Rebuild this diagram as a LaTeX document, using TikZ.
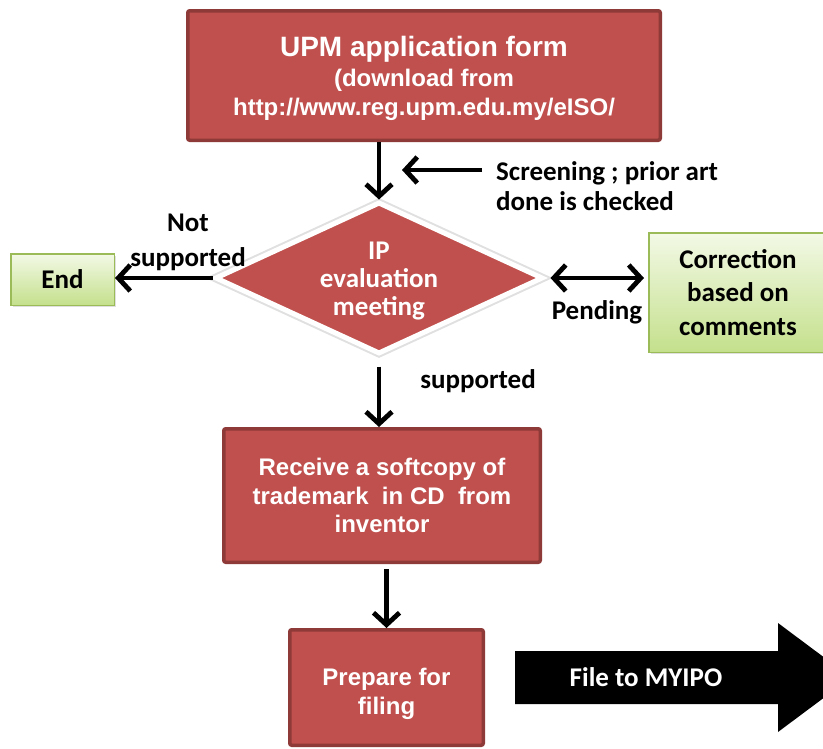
\documentclass[tikz,border=0pt]{standalone}
\usepackage{fontspec}
\setmainfont{Carlito}
\newfontfamily\arialfont{Liberation Sans}
\usepackage{tikz}
\usetikzlibrary{shapes.geometric,arrows.meta,shadows}

\definecolor{boxred}{HTML}{C0504D}
\definecolor{boxredline}{HTML}{8E3A38}
\definecolor{greenline}{HTML}{9BBB59}
\definecolor{greentop}{HTML}{F3F9E6}
\definecolor{greenbot}{HTML}{C4E08C}

\tikzset{
  redbox/.style={draw=boxredline, fill=boxred, line width=3.5pt, rounded corners=2pt,
    text=white, align=center, inner sep=0pt, font=\arialfont\bfseries\fontsize{24}{28.5}\selectfont},
  greenbox/.style={draw=greenline, line width=1.5pt, top color=greentop, bottom color=greenbot,
    align=center, inner sep=0pt, font=\bfseries\fontsize{27}{33.5}\selectfont,
    drop shadow={shadow xshift=2pt, shadow yshift=-2pt, opacity=.25}},
  lbl/.style={align=center, inner sep=0pt, font=\bfseries\fontsize{27}{33}\selectfont},
  arr/.style={line width=4.8pt, -{Straight Barb[length=12pt,width=26pt]}},
}

\begin{document}
\begin{tikzpicture}[x=1pt,y=-1pt]
   \clip (0,0) rectangle (823,748);
   \draw (424,75.5) node[redbox, minimum width=472.5pt, minimum height=129.5pt] (form)
      {\rule{0pt}{26pt}{\fontsize{28}{28.5}\selectfont UPM application form}\\[1.5pt](download from\\http://www.reg.upm.edu.my/eISO/};
   \draw (379,278) node[diamond, aspect=2.16, minimum width=328pt, minimum height=152pt, inner sep=0pt,
      fill=boxred, draw=white, line width=5pt, preaction={draw=black!12, line width=9pt}] (ipmeet) {};
   \draw (379,281) node[lbl, text=white, font=\bfseries\fontsize{27}{28}\selectfont] (ipmeettext) {IP\\evaluation\\meeting};
     \draw (62.5,279.5) node[greenbox, minimum width=103.5pt, minimum height=51.5pt] (endbox) {End};
     \draw (738,292.5) node[greenbox, minimum width=178.5pt, minimum height=119.5pt] (correct)
        {Correction\\based on\\comments};
   \draw (382,495.5) node[redbox, minimum width=316.5pt, minimum height=133.5pt] (receive)
      {Receive a softcopy of\\trademark \ in CD \ from\\inventor};
      \draw (386.5,687.5) node[redbox, minimum width=193.5pt, minimum height=115.5pt] (prepare)
         {\rule{0pt}{30pt}Prepare for\\filing};

   % labels
   \draw (496,186) node[lbl, anchor=west, align=left, font=\bfseries\fontsize{27}{30}\selectfont] (screen)
      {Screening ; prior art\\done is checked};
   \draw (188,242.5) node[lbl, font=\bfseries\fontsize{27}{35}\selectfont] (notsup) {Not\\supported};
   \draw (478,381) node[lbl] (sup) {supported};
   \draw (597,312) node[lbl] (pend) {Pending};
   \coordinate (scrtip) at (402,170);

   % big arrow to MYIPO
   \fill (515,651) -- (778,651) -- (778,623) -- (851,677.5) -- (778,732) -- (778,704) -- (515,704) -- cycle;
   \draw (646,677) node[lbl, text=white] (myipo) {File to MYIPO};

     \path[arr] (ipmeet.north |- form.south) edge (ipmeet.north);
     \path[arr] ([xshift=-14pt,yshift=16pt]screen.west) edge (scrtip);
     \path[arr] (ipmeet.west) edge (ipmeet.west -| endbox.east);
     \path[line width=4.8pt, {Straight Barb[length=12pt,width=26pt]}-{Straight Barb[length=12pt,width=26pt]},
        shorten <=5pt, shorten >=4pt] (ipmeet.east) edge (ipmeet.east -| correct.west);
     \path[arr] ([yshift=-10pt]ipmeet.south) edge (ipmeet.south |- receive.north);
     \path[arr] ([yshift=-5pt]receive.south -| prepare.north) edge (prepare.north);
\end{tikzpicture}
\end{document}
